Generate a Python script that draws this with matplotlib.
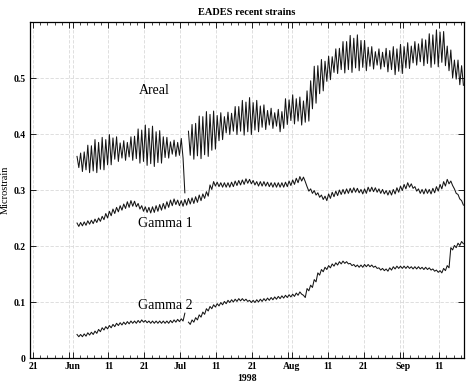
import numpy as np
import matplotlib.pyplot as plt
import matplotlib.dates as mdates
from matplotlib.ticker import FuncFormatter

nan = np.nan

# daily high / low of each strain record, 2 Jun .. 17 Sep 1998 (microstrain)
areal_hi = [.360, .366, .368, .380, .379, .390, .385, .394, .390, .399,
            .393, .395, .384, .388, .385, .395, .396, .409, .407, .416,
            .410, .414, .404, .406, .395, .394, .386, .389, .385, .392,
            .295, .405, .417, .419, .432, .431, .440, .435, .441, .433,
            .438, .431, .439, .437, .449, .449, .460, .457, .465, .456,
            .460, .450, .452, .442, .446, .438, .444, .440, .463, .461,
            .470, .463, .466, .459, .477, .495, .521, .522, .533, .530,
            .539, .538, .552, .553, .565, .565, .576, .571, .577, .567,
            .567, .555, .556, .547, .552, .546, .553, .549, .556, .552,
            .560, .556, .563, .557, .565, .561, .570, .568, .579, .577,
            .586, .582, .583, .557, .550, .532, .532, .522]
areal_lo = [.340, .333, .336, .331, .334, .331, .337, .336, .345, .345,
            .355, .351, .357, .353, .359, .353, .356, .348, .351, .344,
            .347, .342, .349, .348, .358, .357, .364, .360, .362, .357,
            nan, .362, .355, .361, .356, .363, .360, .371, .373, .388,
            .390, .402, .399, .405, .399, .405, .398, .404, .399, .407,
            .404, .412, .408, .416, .410, .414, .404, .410, .417, .424,
            .418, .423, .416, .421, .423, .445, .455, .472, .477, .494,
            .497, .510, .508, .515, .509, .515, .510, .518, .513, .519,
            .513, .521, .516, .523, .516, .520, .511, .515, .506, .512,
            .508, .518, .517, .527, .523, .529, .522, .526, .519, .525,
            .520, .528, .522, .513, .500, .498, .488, .487]

gamma1_hi = [.241, .242, .243, .245, .246, .248, .250, .253, .258, .262,
             .266, .269, .272, .275, .279, .281, .280, .276, .272, .270,
             .269, .270, .272, .274, .276, .279, .282, .284, .282, .281,
             .283, .285, .286, .288, .291, .293, .297, .309, .315, .314,
             .313, .313, .313, .314, .316, .317, .318, .320, .319, .317,
             .315, .315, .315, .314, .313, .313, .313, .313, .314, .316,
             .318, .321, .324, .323, .306, .302, .299, .295, .291, .289,
             .293, .296, .298, .300, .301, .302, .303, .304, .303, .301,
             .302, .305, .305, .304, .302, .301, .299, .299, .301, .304,
             .307, .310, .313, .311, .306, .302, .301, .302, .301, .303,
             .306, .310, .315, .319, .316, .302, .292, .281]
gamma1_lo = [.235, .236, .237, .239, .240, .242, .244, .247, .250, .254,
             .258, .261, .264, .267, .269, .271, .270, .266, .262, .260,
             .259, .260, .262, .264, .266, .269, .272, .274, .272, .271,
             .273, .275, .276, .278, .281, .285, .289, .301, .307, .306,
             .305, .305, .305, .306, .308, .309, .310, .312, .311, .309,
             .307, .307, .307, .306, .305, .305, .305, .305, .306, .308,
             .310, .313, .316, .315, .298, .294, .291, .287, .283, .281,
             .285, .288, .290, .292, .293, .294, .295, .296, .295, .293,
             .294, .297, .297, .296, .294, .293, .291, .291, .293, .296,
             .299, .302, .305, .303, .298, .294, .293, .294, .293, .295,
             .298, .302, .307, .311, .308, .294, .284, .273]

gamma2_hi = [.042, .042, .043, .045, .046, .048, .051, .054, .056, .058,
             .060, .062, .063, .064, .065, .066, .066, .067, .068, .067,
             .066, .066, .066, .066, .066, .066, .067, .068, .069, .070,
             .080, .064, .068, .072, .077, .082, .088, .092, .095, .097,
             .099, .101, .103, .104, .105, .106, .106, .105, .103, .103,
             .104, .105, .106, .107, .108, .109, .110, .111, .112, .113,
             .114, .116, .118, .112, .124, .130, .140, .152, .158, .162,
             .165, .168, .170, .172, .173, .172, .169, .167, .166, .166,
             .167, .167, .166, .164, .161, .160, .159, .161, .163, .164,
             .164, .164, .164, .163, .163, .163, .162, .162, .161, .159,
             .157, .156, .160, .165, .197, .201, .205, .208]
gamma2_lo = [.038, .038, .039, .041, .042, .044, .047, .050, .052, .054,
             .056, .058, .059, .060, .061, .062, .062, .063, .064, .063,
             .062, .062, .062, .062, .062, .062, .063, .064, .065, .066,
             nan, .060, .064, .068, .073, .078, .084, .088, .091, .093,
             .095, .097, .099, .100, .101, .102, .102, .101, .099, .099,
             .100, .101, .102, .103, .104, .105, .106, .107, .108, .109,
             .110, .112, .114, .108, .120, .126, .136, .148, .154, .158,
             .161, .164, .166, .168, .169, .168, .165, .163, .162, .162,
             .163, .163, .162, .160, .157, .156, .155, .157, .159, .160,
             .160, .160, .160, .159, .159, .159, .158, .158, .157, .155,
             .153, .152, .156, .161, .193, .197, .201, .204]

yticks = [0, 0.1, 0.2, 0.3, 0.4, 0.5]
ytick_labels = ['0', '0.1', '0.2', '0.3', '0.4', '0.5']

# samples every 12 h: daily high at 06:00, low at 18:00
t = np.datetime64('1998-06-02T06:00') + np.arange(2 * len(areal_hi)) * np.timedelta64(12, 'h')


def zigzag(hi, lo):
    return np.column_stack([hi, lo]).ravel()


plt.rcParams['font.family'] = ['Liberation Serif', 'DejaVu Serif']

fig = plt.figure(figsize=(4.69, 3.91), dpi=100)
ax = fig.add_axes([30 / 469, 33 / 391, 434 / 469, 336 / 391])

for hi, lo in [(areal_hi, areal_lo), (gamma1_hi, gamma1_lo), (gamma2_hi, gamma2_lo)]:
    ax.plot(t, zigzag(hi, lo), color='#151515', lw=0.75)

ax.set_xlim(np.datetime64('1998-05-20T04:00'), np.datetime64('1998-09-17T22:00'))
ax.set_ylim(0, 0.6)

ax.xaxis.set_major_locator(mdates.DayLocator(bymonthday=[1, 11, 21, 31]))
ax.xaxis.set_minor_locator(mdates.DayLocator(bymonthday=range(1, 32, 2)))


def day_label(x, pos):
    d = mdates.num2date(x)
    if d.day == 1:
        return d.strftime('%b')
    if d.day == 31:
        return ''
    return str(d.day)


ax.xaxis.set_major_formatter(FuncFormatter(day_label))
ax.set_yticks(yticks)
ax.set_yticklabels(ytick_labels)

ax.tick_params(which='both', direction='in', top=True, right=True,
               labelsize=7, pad=3)
ax.tick_params(which='major', length=4, width=0.6)
ax.tick_params(which='minor', length=2.5, width=0.5)
for lab in ax.get_xticklabels() + ax.get_yticklabels():
    lab.set_fontweight('bold')

ax.grid(True, which='major', color='#d9d9d9', linestyle=(0, (4, 2)), lw=0.6)
for s in ax.spines.values():
    s.set_linewidth(0.9)

ax.text(0.286, 0.796, 'Areal', transform=ax.transAxes, ha='center', va='center', fontsize=10)
ax.text(0.311, 0.399, 'Gamma 1', transform=ax.transAxes, ha='center', va='center', fontsize=10)
ax.text(0.312, 0.155, 'Gamma 2', transform=ax.transAxes, ha='center', va='center', fontsize=10)

ax.set_title('EADES recent strains', fontsize=7.5, fontweight='bold', pad=5)
ax.set_xlabel('1998', fontsize=7, fontweight='bold', labelpad=2)
ax.set_ylabel('Microstrain', fontsize=7.5)
ax.yaxis.set_label_coords(-0.046, 0.5)

fig.savefig('out.png', dpi=100)
